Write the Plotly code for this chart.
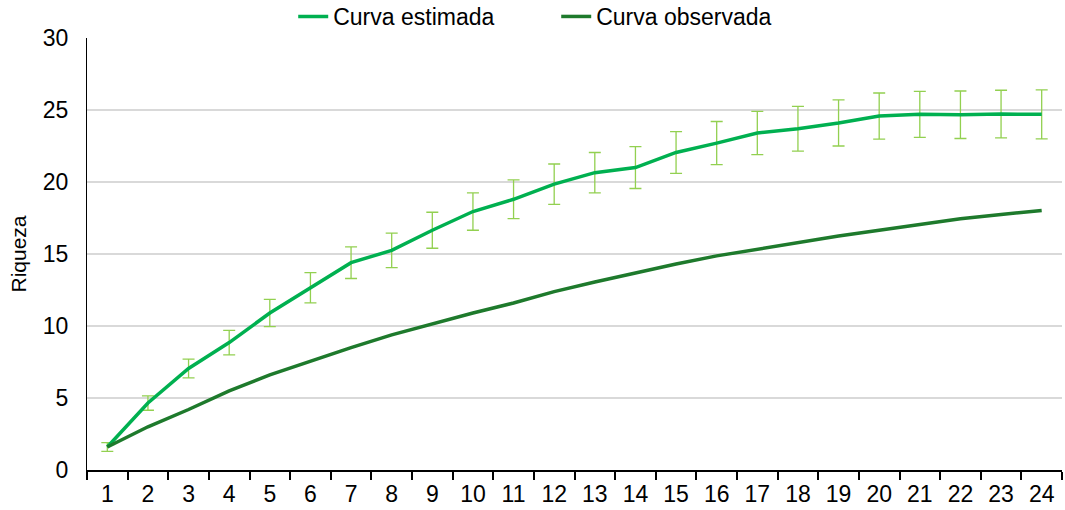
import plotly.graph_objects as go

muestras = [str(i) for i in range(1, 25)]
curva_estimada = [1.6, 4.65, 7.05, 8.85, 10.9, 12.65, 14.4, 15.25, 16.65, 17.95, 18.8, 19.85,
                  20.65, 21.0, 22.05, 22.7, 23.4, 23.7, 24.1, 24.58, 24.7, 24.67, 24.72, 24.7]
error_estimada = [0.3, 0.5, 0.65, 0.85, 0.95, 1.05, 1.1, 1.2, 1.25, 1.3, 1.35, 1.4,
                  1.4, 1.45, 1.45, 1.5, 1.5, 1.55, 1.6, 1.6, 1.6, 1.65, 1.65, 1.7]
curva_observada = [1.6, 3.0, 4.2, 5.5, 6.6, 7.57, 8.5, 9.38, 10.15, 10.9, 11.6, 12.39,
                   13.06, 13.7, 14.3, 14.87, 15.35, 15.8, 16.25, 16.65, 17.05, 17.45, 17.75, 18.02]

FONT = "Liberation Sans, Arial, sans-serif"

fig = go.Figure()
fig.add_trace(go.Scatter(
    x=muestras, y=curva_estimada, name="Curva estimada", mode="lines",
    line=dict(color="#00B050", width=3.5),
    error_y=dict(type="data", array=error_estimada, visible=True,
                 color="#92D050", thickness=1.3, width=6),
))
fig.add_trace(go.Scatter(
    x=muestras, y=curva_observada, name="Curva observada", mode="lines",
    line=dict(color="#1E7A2C", width=3.5),
))

fig.update_layout(
    width=1065, height=510,
    margin=dict(l=87, r=3, t=38, b=40, autoexpand=False),
    paper_bgcolor="white", plot_bgcolor="white",
    font=dict(family=FONT, size=23, color="black"),
    showlegend=True,
    legend=dict(orientation="h", x=0.2115, xanchor="left", y=1.0, yanchor="bottom",
                font=dict(size=23), tracegroupgap=0, entrywidth=218,
                bgcolor="rgba(0,0,0,0)"),
    xaxis=dict(type="category", tickson="boundaries", ticks="outside", ticklen=8,
               tickcolor="black", tickwidth=1.5, showline=True, linecolor="black",
               linewidth=1.5, showgrid=False, tickfont=dict(size=23),
               ticklabelstandoff=3, range=[-0.5, 23.5]),
    yaxis=dict(range=[0, 30], dtick=5, showgrid=True, gridcolor="#D9D9D9", gridwidth=1.5,
               showline=True, linecolor="black", linewidth=1, ticks="",
               tickfont=dict(size=23), zeroline=False, ticklabelstandoff=13,
               title=dict(text="Riqueza", font=dict(size=21), standoff=10)),
)

fig.write_html("out.html", config={"displayModeBar": False},
               post_script="document.body.style.margin='0';")
